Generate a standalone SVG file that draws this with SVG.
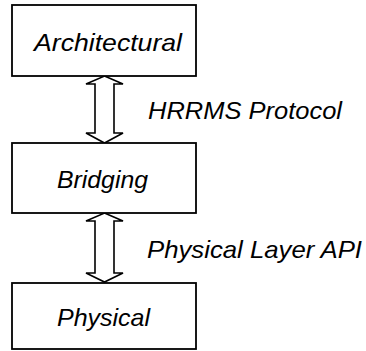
<svg xmlns="http://www.w3.org/2000/svg" width="366" height="351" viewBox="0 0 366 351">
<style>
.box{fill:#fff;stroke:#000;stroke-width:1.8}
.arr{fill:#fff;stroke:#000;stroke-width:1.6;stroke-linejoin:miter}
.t{font-family:"Liberation Sans",Arial,sans-serif;font-style:italic;font-size:24px;fill:#000}
</style>
<rect width="366" height="351" fill="#fff"/>
<g id="connectors">
<path class="arr" d="M104.5,76 L123,84 L114,84 L114,133 L123,133 L104.5,143 L86,133 L95,133 L95,84 L86,84 Z"/>
<path class="arr" d="M104.5,213 L123,221 L114,221 L114,273 L123,273 L104.5,282 L86,273 L95,273 L95,221 L86,221 Z"/>
<text class="t" x="148" y="119" textLength="194" lengthAdjust="spacingAndGlyphs">HRRMS Protocol</text>
<text class="t" x="147" y="258" textLength="215" lengthAdjust="spacingAndGlyphs">Physical Layer API</text>
</g>
<g id="architectural">
<rect class="box" x="12" y="5" width="184" height="71"/>
<text class="t" x="34" y="51" textLength="148" lengthAdjust="spacingAndGlyphs">Architectural</text>
</g>
<g id="bridging">
<rect class="box" x="12" y="143" width="184" height="70"/>
<text class="t" x="57" y="188" textLength="91" lengthAdjust="spacingAndGlyphs">Bridging</text>
</g>
<g id="physical">
<rect class="box" x="12" y="283" width="184" height="66"/>
<text class="t" x="57" y="326" textLength="93" lengthAdjust="spacingAndGlyphs">Physical</text>
</g>
</svg>
